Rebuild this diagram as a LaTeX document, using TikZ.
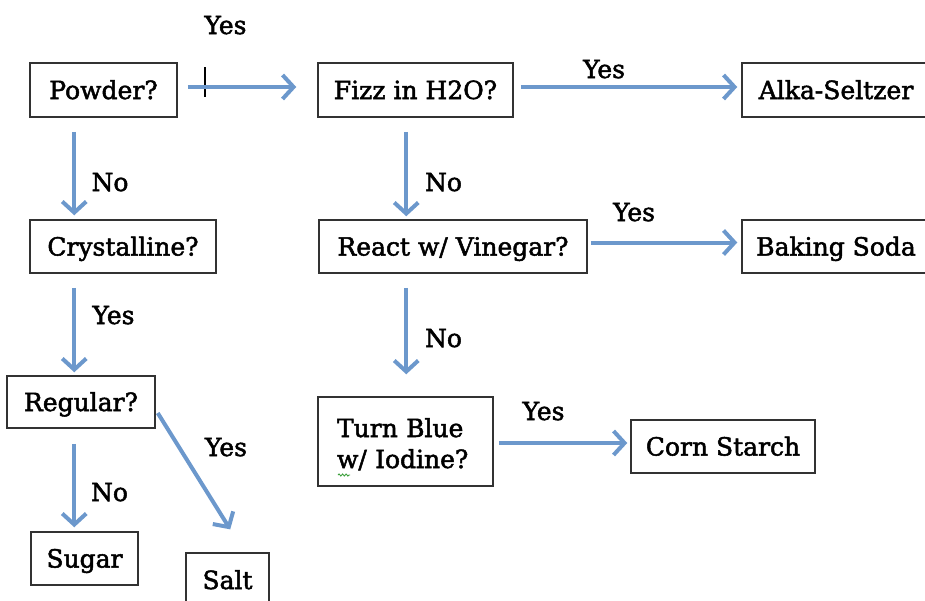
\documentclass[tikz,border=0pt]{standalone}
\usepackage{fontspec}
\setmainfont{DejaVu Serif}
\newfontfamily\diagfont[FakeBold=2]{DejaVu Serif}
\usetikzlibrary{arrows.meta,calc,decorations.pathmorphing}
\definecolor{arrowblue}{RGB}{108,152,204}
\definecolor{boxline}{RGB}{50,50,50}
\definecolor{spellgreen}{RGB}{60,160,60}
\begin{document}
\begin{tikzpicture}[x=1pt,y=-1pt,
  box/.style={draw=boxline,line width=1.5pt,inner sep=0pt,fill=white,
    font=\diagfont\fontsize{25}{31}\selectfont,text height=18pt,text depth=0pt},
  lbl/.style={inner sep=0pt,font=\diagfont\fontsize{25}{31}\selectfont,text height=18pt,text depth=0pt},
  flow/.style={draw=arrowblue,line width=4pt,-{Straight Barb[length=11pt,width=24pt]}}]
\useasboundingbox (0,0) rectangle (925,600);
% boxes
\node[box,minimum width=147pt,minimum height=54pt] (powder) at (103.5,90) {Powder?};
\node[box,minimum width=195pt,minimum height=54pt] (fizz) at (415.5,90) {Fizz in H2O?};
\node[box,minimum width=188pt,minimum height=54pt] (alka) at (836,90) {Alka-Seltzer};
\node[box,minimum width=268pt,minimum height=53pt] (react) at (453,246.5) {React w/ Vinegar?};
\node[box,minimum width=188pt,minimum height=53pt] (baking) at (836,246.5) {Baking Soda};
\node[box,minimum width=186pt,minimum height=53pt] (crys) at (123,246.5) {Crystalline?};
\node[box,minimum width=148pt,minimum height=52pt] (regular) at (81,402) {Regular?};
\node[box,minimum width=107pt,minimum height=53pt] (sugar) at (84.5,558.5) {Sugar};
\node[box,minimum width=83pt,minimum height=54pt] (salt) at (227.5,580) {Salt};
\node[box,minimum width=175pt,minimum height=89pt,text width=137pt,align=left,
  inner xsep=19pt,text height=18pt,text depth=27pt] (turn) at (405.5,441.5) {Turn Blue\\w/ Iodine?};
\node[box,minimum width=184pt,minimum height=53pt] (corn) at (723,446.5) {Corn Starch};
% cursor tick and spell-check squiggle
\draw[black,line width=1.5pt] (205,67) -- (205,97);
\draw[spellgreen,line width=0.9pt,decorate,decoration={snake,amplitude=1pt,segment length=3.5pt}] (338,475) -- (350,475);
% connectors
\draw[flow,shorten <=10pt,shorten >=21pt] ([yshift=3pt]powder.east) -- ([yshift=3pt]fizz.west);
\draw[flow,shorten <=7pt,shorten >=4pt] ([yshift=3pt]fizz.east) -- ([yshift=3pt]alka.west);
\draw[flow,shorten <=3pt,shorten >=4pt] ([yshift=4pt]react.east) -- ([yshift=4pt]baking.west);
\draw[flow,shorten <=5pt,shorten >=3pt] ([yshift=-1.5pt]turn.east) -- ([yshift=3.5pt]corn.west);
\draw[flow,shorten <=14pt,shorten >=3pt] ($(fizz.south west)+(89,0)$) -- ($(react.north west)+(88,0)$);
\draw[flow,shorten <=14pt,shorten >=22pt] ($(react.south west)+(88,0)$) -- ($(turn.north west)+(89,0)$);
\draw[flow,shorten <=14pt,shorten >=4pt] ($(powder.south west)+(45,0)$) -- ($(crys.north west)+(45,0)$);
\draw[flow,shorten <=14pt,shorten >=3pt] ($(crys.south west)+(45,0)$) -- ($(regular.north west)+(68,0)$);
\draw[flow,shorten <=15pt,shorten >=4pt] ($(regular.south west)+(68,0)$) -- ($(sugar.north west)+(44,0)$);
\draw[flow,shorten <=0pt,shorten >=27pt] ($(regular.east)+(2,11)$) -- ($(salt.north)+(17,0)$);
% labels
\node[lbl] (l1) at (225.5,25) {Yes};
\node[lbl] (l2) at (604,69) {Yes};
\node[lbl] (l3) at (443.5,182) {No};
\node[lbl] (l4) at (634,212) {Yes};
\node[lbl] (l5) at (443.5,338) {No};
\node[lbl] (l6) at (543.5,411) {Yes};
\node[lbl] (l7) at (110,182) {No};
\node[lbl] (l8) at (113.5,315) {Yes};
\node[lbl] (l9) at (226,447) {Yes};
\node[lbl] (l10) at (109.5,492) {No};
\end{tikzpicture}
\end{document}
